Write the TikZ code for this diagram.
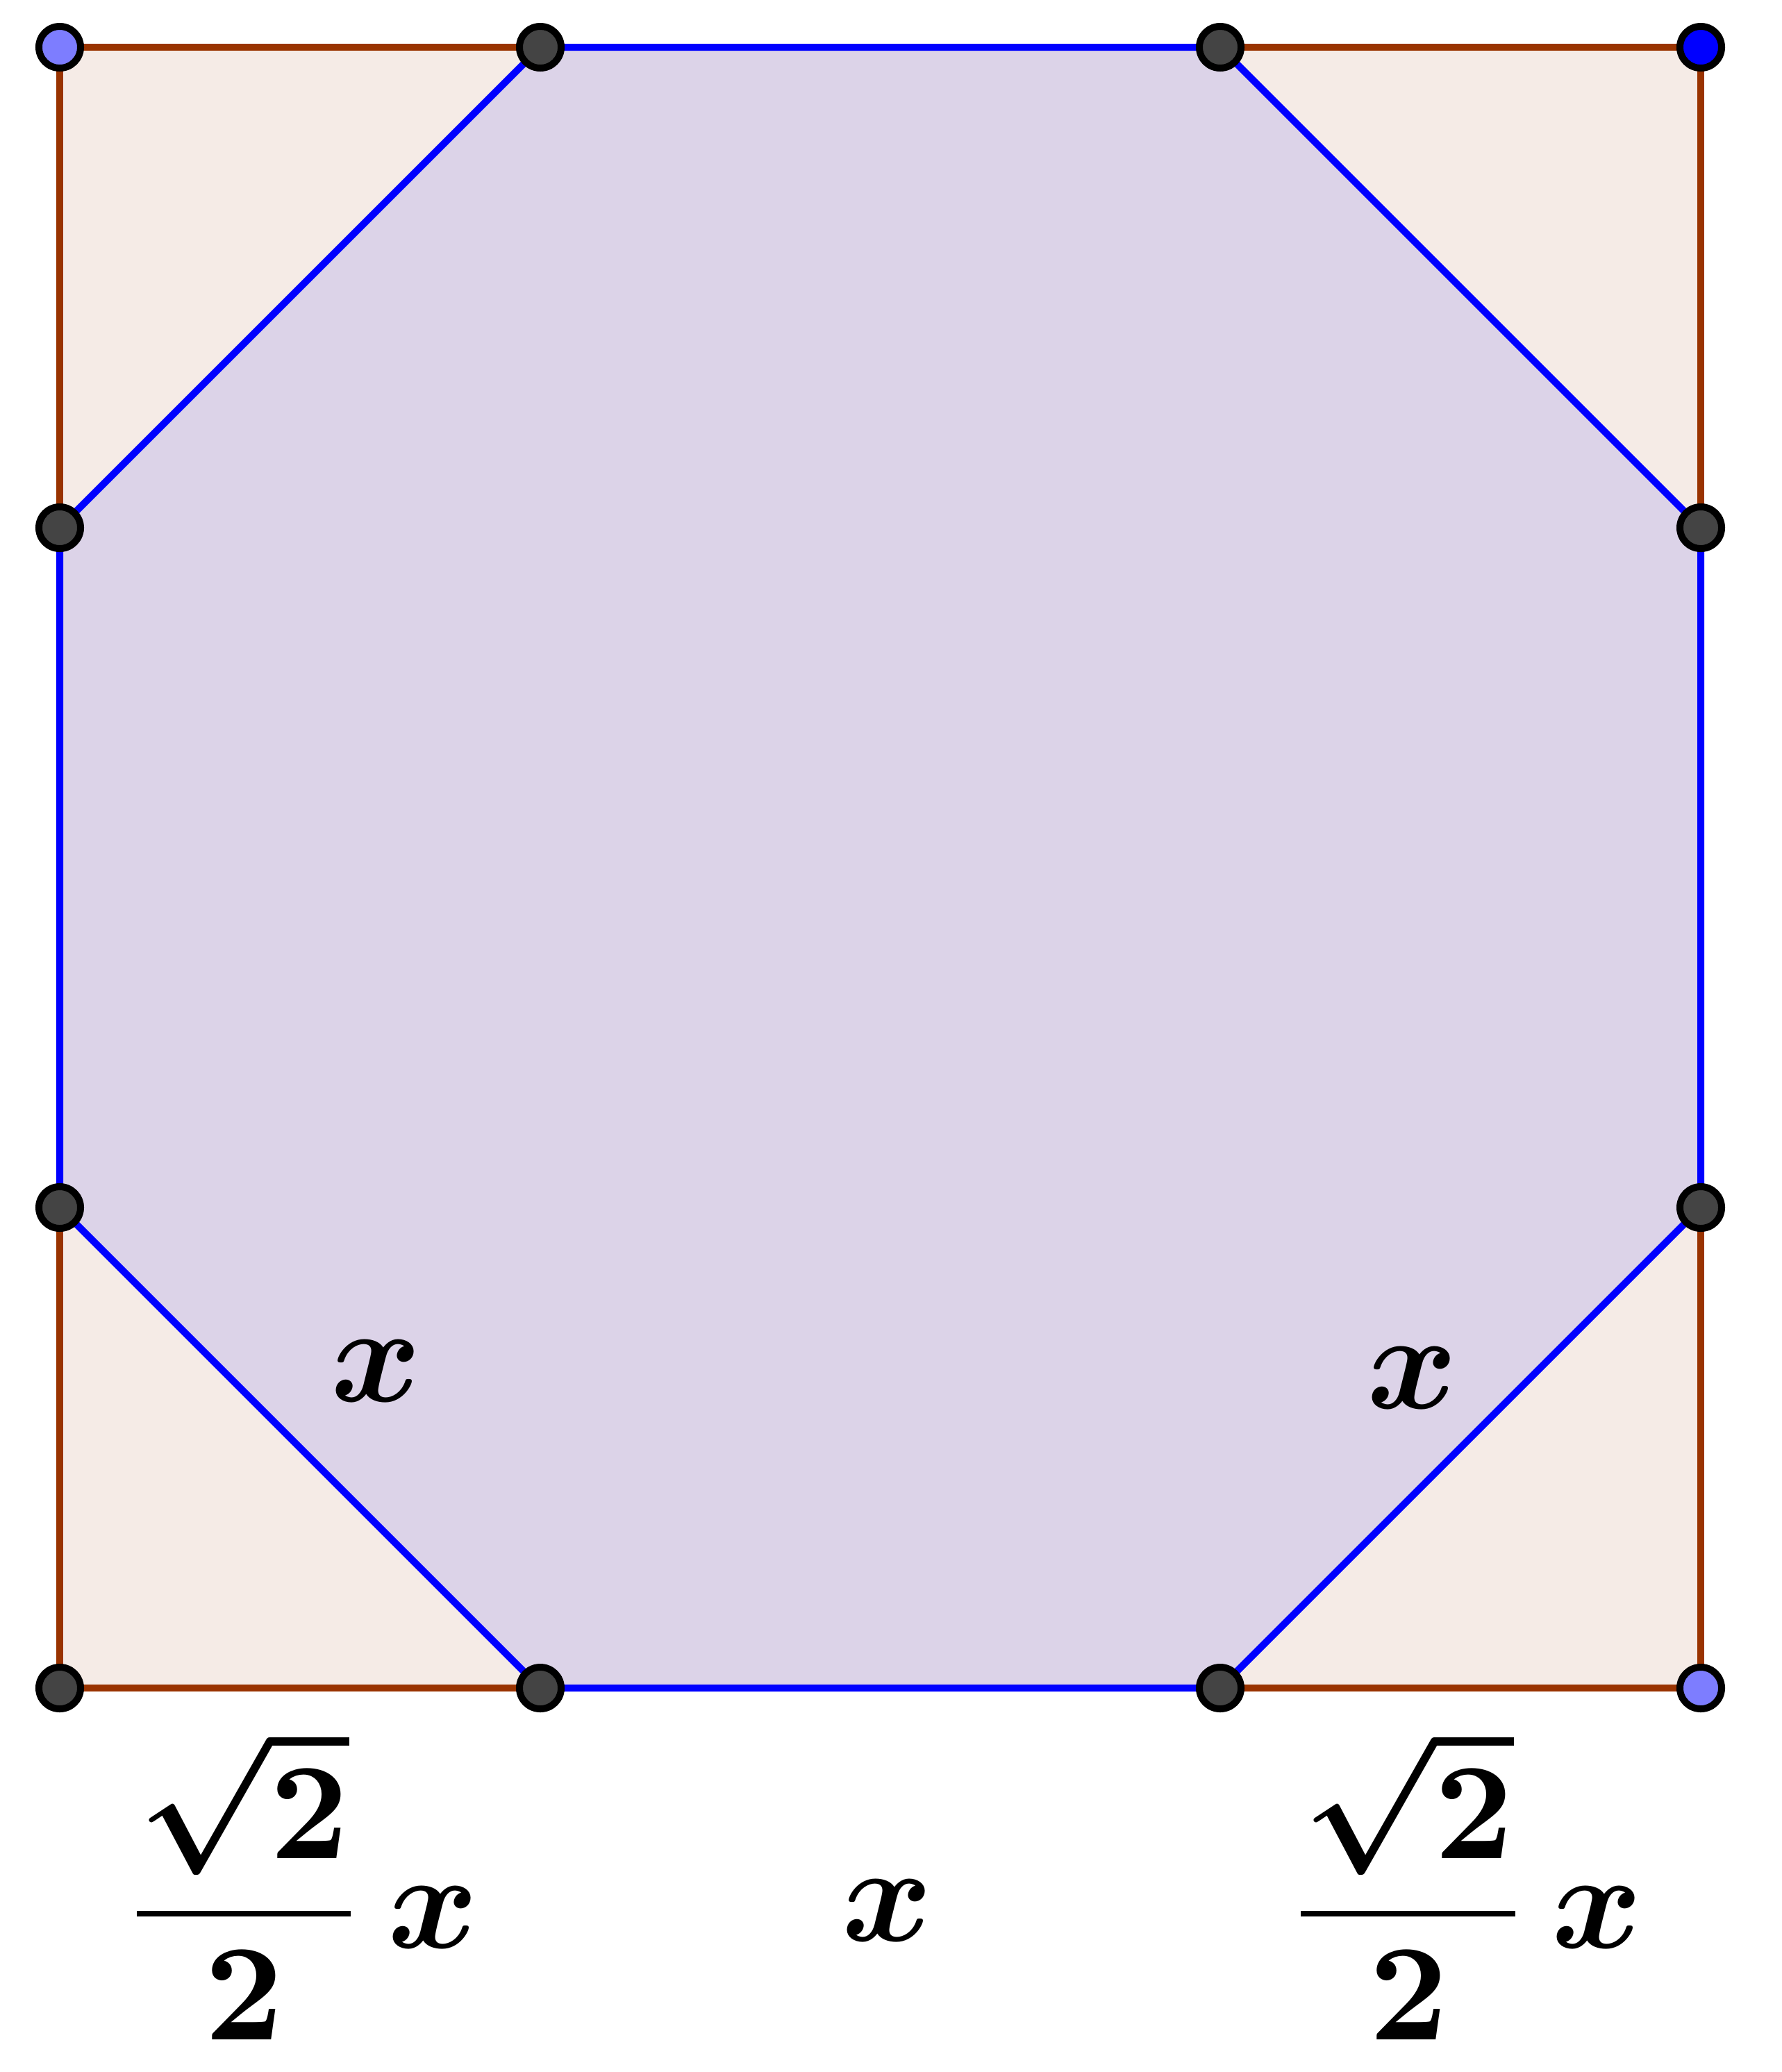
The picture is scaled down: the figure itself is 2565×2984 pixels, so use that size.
\documentclass[tikz,border=0pt]{standalone}
\usepackage{amsmath}
\definecolor{brownln}{RGB}{153,51,0}
\definecolor{sqfill}{RGB}{245,235,230}
\definecolor{octfill}{RGB}{220,211,232}
\definecolor{ptgray}{RGB}{68,68,68}
\definecolor{ptlight}{RGB}{125,125,255}
\definecolor{ptblue}{RGB}{0,0,255}
\newcommand{\biglab}[1]{\scalebox{5.63}{\boldmath$\textstyle #1$}}
\tikzset{
  pt/.style={circle, draw=black, line width=1mm, inner sep=0pt, minimum size=0.6cm, fill=ptgray},
  sqline/.style={draw=brownln, line width=1mm, line join=round},
  octline/.style={draw=ptblue, line width=1mm, line join=round},
  lab/.style={inner sep=0pt, anchor=base},
  fracbar/.style={draw=black, line width=0.8mm}
}
\begin{document}
\begin{tikzpicture}[x=0.01cm,y=-0.01cm]
\useasboundingbox (0,0) rectangle (2565,2984);
% square corners
\coordinate (TL) at (86,68);
\coordinate (TR) at (2449,68);
\coordinate (BR) at (2449,2431);
\coordinate (BL) at (86,2431);
% octagon vertices
\coordinate (O1) at (778,68);
\coordinate (O2) at (1757,68);
\coordinate (O3) at (2449,760);
\coordinate (O4) at (2449,1739);
\coordinate (O5) at (1757,2431);
\coordinate (O6) at (778,2431);
\coordinate (O7) at (86,1739);
\coordinate (O8) at (86,760);
% fills
\fill[sqfill] (TL) -- (TR) -- (BR) -- (BL) -- cycle;
\fill[octfill] (O1) -- (O2) -- (O3) -- (O4) -- (O5) -- (O6) -- (O7) -- (O8) -- cycle;
% outlines
\draw[sqline] (TL) -- (TR) -- (BR) -- (BL) -- cycle;
\draw[octline] (O1) -- (O2) -- (O3) -- (O4) -- (O5) -- (O6) -- (O7) -- (O8) -- cycle;
% points
\node[pt, fill=ptlight] (pTL) at (TL) {};
\node[pt, fill=ptblue] (pTR) at (TR) {};
\node[pt, fill=ptlight] (pBR) at (BR) {};
\node[pt] (pBL) at (BL) {};
\node[pt] (p1) at (O1) {};
\node[pt] (p2) at (O2) {};
\node[pt] (p3) at (O3) {};
\node[pt] (p4) at (O4) {};
\node[pt] (p5) at (O5) {};
\node[pt] (p6) at (O6) {};
\node[pt] (p7) at (O7) {};
\node[pt] (p8) at (O8) {};
% labels on the sides
\node[lab] (xl) at (542,2018) {\biglab{x}};
\node[lab] (xr) at (2034,2028) {\biglab{x}};
\node[lab] (xm) at (1278,2795) {\biglab{x}};
% left fraction
\node[lab] (flnum) at (351,2676) {\biglab{\sqrt{2}}};
\coordinate (flbarL) at (197,2756);
\coordinate (flbarR) at (505,2756);
\draw[fracbar] (flbarL) -- (flbarR);
\node[lab] (flden) at (351,2937) {\biglab{2}};
\node[lab] (flx) at (624,2805) {\biglab{x}};
% right fraction
\node[lab] (frnum) at (2028,2676) {\biglab{\sqrt{2}}};
\coordinate (frbarL) at (1873,2756);
\coordinate (frbarR) at (2182,2756);
\draw[fracbar] (frbarL) -- (frbarR);
\node[lab] (frden) at (2028,2937) {\biglab{2}};
\node[lab] (frx) at (2300,2805) {\biglab{x}};
\end{tikzpicture}
\end{document}
